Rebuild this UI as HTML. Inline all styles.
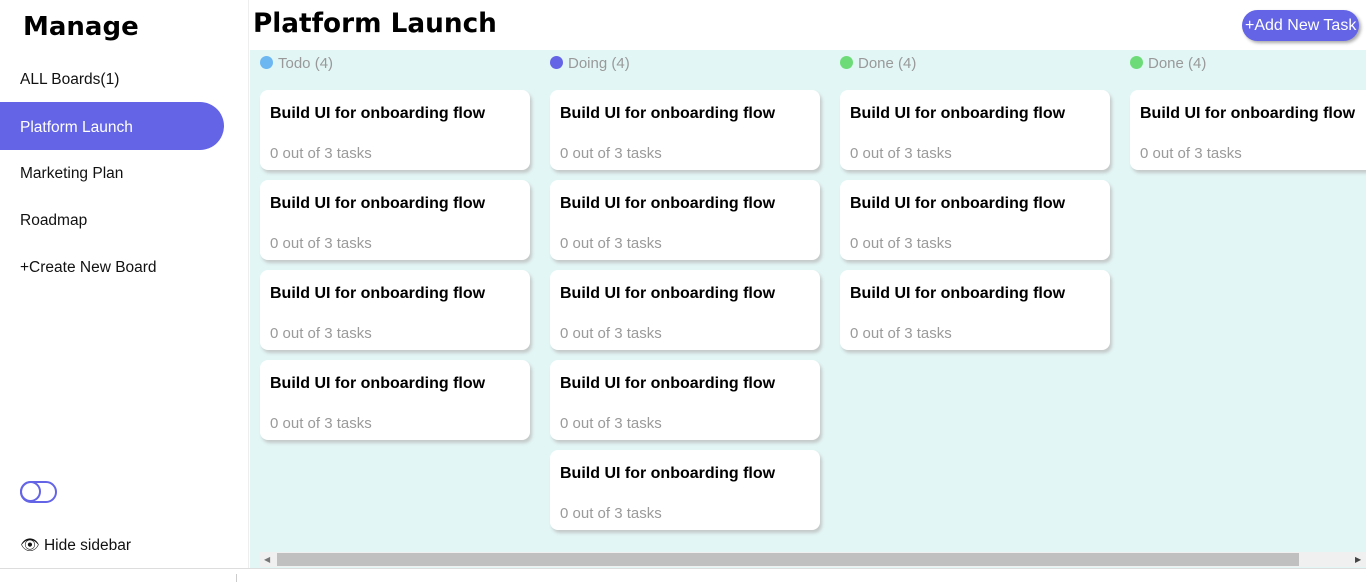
<!DOCTYPE html>
<html><head><meta charset="utf-8"><style>
*{margin:0;padding:0;box-sizing:border-box}
body{width:1366px;height:582px;overflow:hidden;background:#fff;font-family:"Liberation Sans",sans-serif;position:relative}
.side{position:absolute;left:0;top:0;width:249px;height:568px;border-right:1px solid #eee;background:#fff}
.side h1{position:absolute;left:23px;top:12px;font-size:26px;font-weight:bold;font-family:"DejaVu Sans","Liberation Sans",sans-serif}
.nav{position:absolute;left:20px;font-size:15.5px;color:#111}
.active{position:absolute;left:0;top:102px;width:224px;height:48px;background:#6464e6;border-radius:0 24px 24px 0;color:#fff;font-size:15.5px;padding:17px 0 0 20px}
.tog{position:absolute;left:20px;top:481px;width:37px;height:22px;border:2.5px solid #6464e6;border-radius:11px}
.tog:after{content:"";box-sizing:content-box;position:absolute;left:-2.5px;top:-2.5px;width:17px;height:17px;border:2.5px solid #6464e6;border-radius:50%}
.title{position:absolute;left:253px;top:9px;font-size:26.3px;font-weight:bold;font-family:"DejaVu Sans","Liberation Sans",sans-serif}
.btn{position:absolute;left:1242px;top:10px;width:117px;height:31px;background:#6464e6;border-radius:16px;color:#fff;font-size:16px;padding:7px 0 0 3px;box-shadow:2px 2px 3px #aaa;white-space:nowrap}
.main{position:absolute;left:250px;top:50px;width:1116px;height:518px;background:#e2f6f5}
.hd{position:absolute;top:55px;font-size:15px;color:#999}
.hd i{display:inline-block;width:13px;height:13px;border-radius:50%;vertical-align:-1px;margin-right:5px}
.card{position:absolute;width:270px;height:80px;background:#fff;border-radius:8px;box-shadow:2px 3px 3px #c4c9c9}
.card b{position:absolute;left:10px;top:15px;font-size:16px;white-space:nowrap}
.card span{position:absolute;left:10px;top:55px;font-size:15px;color:#9a9a9a;white-space:nowrap}
.sb{position:absolute;left:260px;top:552px;width:1106px;height:15px;background:#f0f0f0}
.thumb{position:absolute;left:277px;top:553px;width:1022px;height:13px;background:#c0c0c0}
.bot{position:absolute;left:0;top:568px;width:1366px;height:14px;border-top:1px solid #ddd;background:#fff}
</style></head><body>
<div class="side">
<h1>Manage</h1>
<div class="nav" style="top:71px">ALL Boards(1)</div>
<div class="active">Platform Launch</div>
<div class="nav" style="top:165px">Marketing Plan</div>
<div class="nav" style="top:212px">Roadmap</div>
<div class="nav" style="top:259px">+Create New Board</div>
<div class="tog"></div>
<div class="nav" style="top:536px">&#128065;&#xFE0E; Hide sidebar</div>
</div>
<div class="title">Platform Launch</div>
<div class="btn">+Add New Task</div>
<div class="main"></div>
<div class="hd" style="left:260px"><i style="background:#6cb6f2"></i>Todo (4)</div>
<div class="hd" style="left:550px"><i style="background:#6464e6"></i>Doing (4)</div>
<div class="hd" style="left:840px"><i style="background:#6ddc78"></i>Done (4)</div>
<div class="hd" style="left:1130px"><i style="background:#6ddc78"></i>Done (4)</div>

<div class="card" style="left:260px;top:90px"><b>Build UI for onboarding flow</b><span>0 out of 3 tasks</span></div>
<div class="card" style="left:260px;top:180px"><b>Build UI for onboarding flow</b><span>0 out of 3 tasks</span></div>
<div class="card" style="left:260px;top:270px"><b>Build UI for onboarding flow</b><span>0 out of 3 tasks</span></div>
<div class="card" style="left:260px;top:360px"><b>Build UI for onboarding flow</b><span>0 out of 3 tasks</span></div>

<div class="card" style="left:550px;top:90px"><b>Build UI for onboarding flow</b><span>0 out of 3 tasks</span></div>
<div class="card" style="left:550px;top:180px"><b>Build UI for onboarding flow</b><span>0 out of 3 tasks</span></div>
<div class="card" style="left:550px;top:270px"><b>Build UI for onboarding flow</b><span>0 out of 3 tasks</span></div>
<div class="card" style="left:550px;top:360px"><b>Build UI for onboarding flow</b><span>0 out of 3 tasks</span></div>
<div class="card" style="left:550px;top:450px"><b>Build UI for onboarding flow</b><span>0 out of 3 tasks</span></div>

<div class="card" style="left:840px;top:90px"><b>Build UI for onboarding flow</b><span>0 out of 3 tasks</span></div>
<div class="card" style="left:840px;top:180px"><b>Build UI for onboarding flow</b><span>0 out of 3 tasks</span></div>
<div class="card" style="left:840px;top:270px"><b>Build UI for onboarding flow</b><span>0 out of 3 tasks</span></div>

<div class="card" style="left:1130px;top:90px"><b>Build UI for onboarding flow</b><span>0 out of 3 tasks</span></div>

<div class="sb"></div><div class="thumb"></div>
<div style="position:absolute;left:264px;top:555px;font-size:8px;color:#777">&#9664;</div>
<div style="position:absolute;left:1355px;top:555px;font-size:8px;color:#444">&#9654;</div>
<div class="bot"></div>
<div style="position:absolute;left:236px;top:574px;width:1px;height:8px;background:#ccc"></div>
</body></html>
